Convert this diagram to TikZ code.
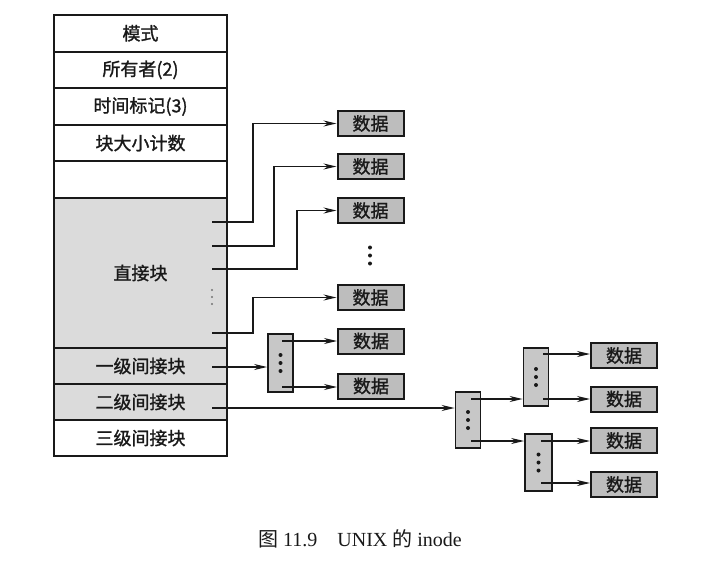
\documentclass[tikz,border=0pt]{standalone}
\usepackage{fontspec}
\setmainfont{Liberation Serif}
\newfontfamily\cjk{Noto Sans CJK SC}
\newfontfamily\cjkb[FakeBold=1.3]{Noto Sans CJK SC}
\usetikzlibrary{arrows.meta,positioning}
\tikzset{
    ink/.style={black!90},
    cell/.style={draw=black!90, line width=2pt, minimum width=173pt, minimum height=36.6pt, inner sep=0pt, text=black!90, font=\cjkb\fontsize{18}{18}\selectfont},
    shaded cell/.style={cell, fill=black!14},
    data box/.style={draw=black!90, line width=2pt, fill=black!26, minimum width=66pt, minimum height=25pt, inner sep=0pt, text=black!90, font=\cjkb\fontsize{18}{18}\selectfont},
    index box/.style={draw=black!90, line width=1.8pt, fill=black!22, minimum width=25pt, minimum height=58pt, inner sep=0pt},
    arr/.style={-{Stealth[length=13pt,width=6pt]}, line width=1.3pt, ink},
    point/.style={circle, fill=black!90, inner sep=0pt, minimum size=4pt},
    small point/.style={point, fill=black!55, minimum size=2.4pt},
}

\begin{document}
\begin{tikzpicture}[x=1pt,y=-1pt]
    \fill[white] (0,0) rectangle (709,565);
    \useasboundingbox (0,0) rectangle (709,565);

    \node[cell] (mode) at (140.5,33.3) {模式};
    \node[cell] (owner) at (140.5,69.9) {所有者(2)};
    \node[cell] (stamp) at (140.5,106.5) {时间标记(3)};
    \node[cell] (count) at (140.5,143.1) {块大小计数};
    \node[cell] (blank) at (140.5,179.7) {};
    \node[shaded cell, minimum height=150pt] (direct) at (140.5,273) {直接块};
    \node[shaded cell] (single) at (140.5,366) {一级间接块};
    \node[shaded cell] (double) at (140.5,402) {二级间接块};
    \node[cell] (triple) at (140.5,438) {三级间接块};

    \node[data box] (d1) at (370.5,123.5) {数据};
    \node[data box] (d2) at (370.5,166.5) {数据};
    \node[data box] (d3) at (370.5,210.5) {数据};
    \node[data box] (d4) at (370.5,297.5) {数据};
    \node[data box] (d5) at (371,341) {数据};
    \node[data box] (d6) at (371,386) {数据};

    \node[index box] (ind1) at (280.5,363) {};
    \node[index box, minimum height=56pt] (ind2) at (468,420) {};
    \node[index box] (ind2a) at (536,377) {};
    \node[index box, minimum width=27pt, minimum height=57pt] (ind2b) at (538.5,462.5) {};

    \node[data box] (e1) at (624,355.5) {数据};
    \node[data box] (e2) at (624,399) {数据};
    \node[data box] (e3) at (624,440.5) {数据};
    \node[data box] (e4) at (624,484.5) {数据};

    \coordinate (t1) at (212,222);
    \coordinate (t2) at (212,246);
    \coordinate (t3) at (212,269);
    \coordinate (t4) at (212,333);
    \coordinate (s1) at (212,367);
    \coordinate (s2) at (212,408);

    \draw[arr] (t1) -- ++(41,0) |- (d1.west);
    \draw[arr] (t2) -- ++(62,0) |- (d2.west);
    \draw[arr] (t3) -- ++(85,0) |- (d3.west);
    \draw[arr] (t4) -- ++(41,0) |- (d4.west);
    \draw[arr] (s1) -- (s1 -| ind1.west);
    \draw[arr] (s2) -- (s2 -| ind2.west);

    \coordinate (p1) at (282,341);
    \coordinate (p2) at (282,387);
    \coordinate (q1) at (471,399);
    \coordinate (q2) at (471,441);
    \coordinate (u1) at (543,354);
    \coordinate (u2) at (543,399);
    \coordinate (v1) at (541,441);
    \coordinate (v2) at (541,483);

    \draw[arr] (p1) -- (p1 -| d5.west);
    \draw[arr] (p2) -- (p2 -| d6.west);
    \draw[arr] (q1) -- (q1 -| ind2a.west);
    \draw[arr] (q2) -- (q2 -| ind2b.west);
    \draw[arr] (u1) -- (u1 -| e1.west);
    \draw[arr] (u2) -- (u2 -| e2.west);
    \draw[arr] (v1) -- (v1 -| e3.west);
    \draw[arr] (v2) -- (v2 -| e4.west);

    \foreach \n in {ind1,ind2,ind2a,ind2b}
        \foreach \k in {-8,0,8}
            \path (\n.center) ++(0,\k) node[point] {};
    \coordinate (gap) at (370,255.5);
    \foreach \k in {-8,0,8}
        \path (gap) ++(0,\k) node[point] {};
    \foreach \k in {-7,0,7}
        \path (212,297) ++(0,\k) node[small point] {};

    \node[text=black!90, font=\fontsize{20}{20}\selectfont] (caption) at (360,539) {{\cjk 图} 11.9\quad UNIX {\cjk 的} inode};
\end{tikzpicture}
\end{document}
